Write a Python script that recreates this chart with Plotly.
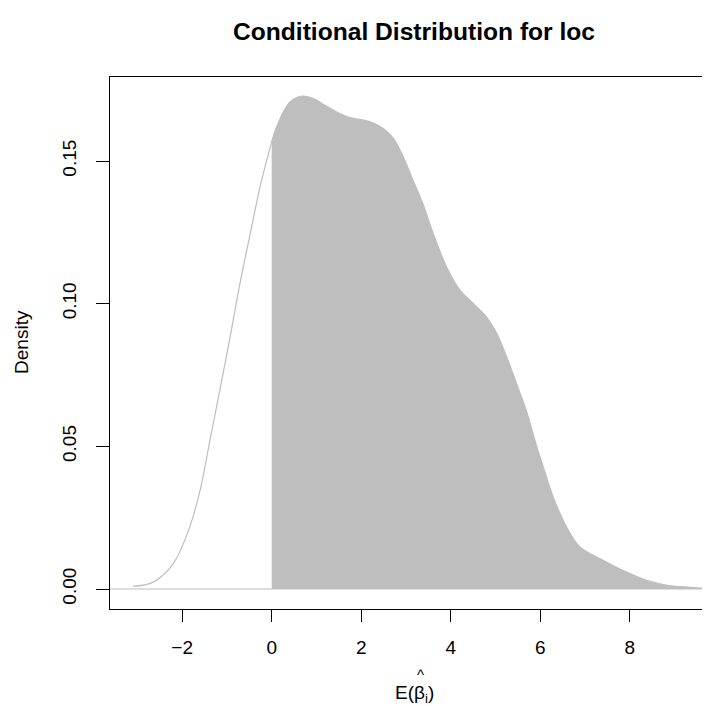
import plotly.graph_objects as go

# Density curve
x_vals = [-3.10, -2.65, -2.20, -1.86, -1.60, -1.38, -1.16, -0.93, -0.71, -0.48,
          -0.26, -0.04, 0.0, 0.11, 0.26, 0.41, 0.56, 0.74, 0.93, 1.15,
          1.45, 1.75, 2.05, 2.27, 2.49, 2.72, 2.94, 3.16, 3.39, 3.61,
          3.91, 4.21, 4.51, 4.80, 5.03, 5.25, 5.47, 5.70, 5.92, 6.07,
          6.29, 6.59, 6.89, 7.41, 7.93, 8.38, 8.83, 9.42, 9.65]
dens_vals = [0.0009, 0.0024, 0.0089, 0.0205, 0.0346, 0.0521, 0.0696, 0.0883, 0.1070, 0.1245,
             0.1409, 0.1545, 0.1568, 0.1619, 0.1672, 0.1707, 0.1722, 0.1727, 0.1719, 0.1699,
             0.1672, 0.1652, 0.1643, 0.1633, 0.1614, 0.1579, 0.1514, 0.1432, 0.1345, 0.1245,
             0.1128, 0.1047, 0.1000, 0.0953, 0.0895, 0.0813, 0.0720, 0.0620, 0.0500, 0.0427,
             0.0322, 0.0217, 0.0147, 0.0100, 0.0059, 0.0030, 0.0013, 0.0005, 0.0002]
threshold = 0.0

x_ticks = [-2, 0, 2, 4, 6, 8]
x_tick_labels = ["\u22122", "0", "2", "4", "6", "8"]
y_ticks = [0.0, 0.05, 0.10, 0.15]
y_tick_labels = ["0.00", "0.05", "0.10", "0.15"]

title_text = "<b>Conditional Distribution for loc</b>"
x_title = "E(β<sub>i</sub>)"
y_title = "Density"

GRAY = "#BEBEBE"
FONT = "Liberation Sans, Arial, Helvetica, sans-serif"

fill_x = [x for x in x_vals if x >= threshold]
fill_y = [d for x, d in zip(x_vals, dens_vals) if x >= threshold]

fig = go.Figure()
fig.add_trace(go.Scatter(x=x_vals, y=dens_vals, mode="lines",
                         line=dict(color=GRAY, width=1.2, shape="spline", smoothing=1.0),
                         hoverinfo="skip", showlegend=False))
fig.add_trace(go.Scatter(x=fill_x, y=fill_y, mode="lines", fill="tozeroy",
                         fillcolor=GRAY,
                         line=dict(color=GRAY, width=0.5, shape="spline", smoothing=1.0),
                         hoverinfo="skip", showlegend=False))

fig.add_shape(type="line", xref="paper", yref="y", x0=0, x1=1, y0=0, y1=0,
              line=dict(color=GRAY, width=1.2), layer="above")

# page has an 8px body margin: figure is 702x698, placed at (8, 8)
fig.update_layout(
    width=702, height=698,
    margin=dict(l=102, r=0, t=69, b=97),
    paper_bgcolor="white", plot_bgcolor="white",
    font=dict(family=FONT, size=19, color="black"),
    showlegend=False,
    xaxis=dict(range=[-3.6134, 9.7944], tickvals=x_ticks, ticktext=x_tick_labels,
               showgrid=False, zeroline=False,
               showline=True, mirror=True, linecolor="black", linewidth=1.3,
               ticks="outside", ticklen=12, tickwidth=1.3, tickcolor="black",
               ticklabelstandoff=9),
    yaxis=dict(range=[-0.00701, 0.17944], tickvals=y_ticks, ticktext=y_tick_labels,
               tickangle=-90, showgrid=False, zeroline=False,
               showline=True, linecolor="black", linewidth=1.3,
               ticks="outside", ticklen=13, tickwidth=1.3, tickcolor="black",
               ticklabelstandoff=12),
    annotations=[
        dict(text=title_text, xref="paper", yref="paper", x=0.5067, y=1.0847,
             xanchor="center", yanchor="middle", showarrow=False,
             font=dict(family=FONT, size=24.6, color="black")),
        dict(text=x_title, xref="paper", yref="paper", x=0.5067, y=-0.16,
             xanchor="center", yanchor="middle", showarrow=False,
             font=dict(family=FONT, size=19, color="black")),
        dict(text="^", xref="paper", yref="paper", x=0.5167, y=-0.123,
             xanchor="center", yanchor="middle", showarrow=False,
             font=dict(family=FONT, size=15, color="black")),
        dict(text=y_title, xref="paper", yref="paper", x=-0.1467, y=0.502,
             xanchor="center", yanchor="middle", showarrow=False, textangle=-90,
             font=dict(family=FONT, size=19, color="black")),
    ],
)

fig.write_html("out.html")
